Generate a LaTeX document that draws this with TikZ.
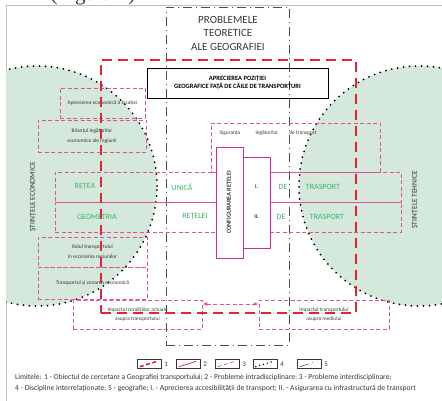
\documentclass[tikz,border=0pt]{standalone}
\usepackage{fontspec}
\setmainfont{Carlito}
\newfontfamily\figfont{Liberation Serif}
\usetikzlibrary{arrows, positioning}

\definecolor{redline}{RGB}{226,35,52}
\definecolor{pinkline}{RGB}{230,80,155}
\definecolor{magline}{RGB}{214,40,140}
\definecolor{greentext}{RGB}{60,180,110}
\definecolor{mint}{RGB}{212,232,220}
\definecolor{txt}{RGB}{55,55,55}

\tikzset{
    objbox/.style={draw=redline, line width=2.4pt, dash pattern=on 10pt off 6pt},
    intrabox/.style={draw=magline, line width=0.8pt},
    interbox/.style={draw=pinkline, line width=0.7pt, dash pattern=on 4pt off 2.5pt},
    discline/.style={draw=black, line width=2pt, line cap=round, dash pattern=on 0pt off 6pt},
    geoline/.style={draw=black!70, line width=0.6pt, dash pattern=on 9pt off 4pt on 1pt off 4pt},
    legobj/.style={draw=redline, line width=1.6pt, dash pattern=on 4pt off 2.5pt},
    legdisc/.style={draw=black, line width=1.6pt, line cap=round, dash pattern=on 0pt off 4pt},
    boxtext/.style={font=\fontsize{5.4}{9.5}\selectfont, text=txt, align=center, inner sep=0pt},
    rowtext/.style={font=\fontsize{8}{9}\selectfont, text=greentext, inner sep=0pt},
    captext/.style={anchor=base west, font=\fontsize{7.6}{9}\selectfont, text=txt, inner sep=0pt},
}

\begin{document}
\begin{tikzpicture}[>=latex, x=1pt, y=-1pt, font=\small]

\useasboundingbox (0,0) rectangle (442,401);

\node[font=\figfont\fontsize{21}{21}\selectfont, anchor=base, text=txt] (fig) at (93,0.5) {(Figura 1)};
\draw[gray!50, line width=0.4pt] (6,401) -- (6,5) -- (442,5);

% stiintele
\begin{scope}
    \clip (6,0) rectangle (442,401);
    \node[circle, fill=mint, discline, minimum size=240pt] (econ) at (37,186) {};
\end{scope}
\node[circle, fill=mint, discline, minimum size=240pt] (tehn) at (419,186) {};

\node[rotate=90, font=\fontsize{7.5}{9}\selectfont, text=txt] (econtxt) at (33,197) {ȘTIINȚELE ECONOMICE};
\node[rotate=90, font=\fontsize{7.5}{9}\selectfont, text=txt] (tehntxt) at (415,200) {ȘTIINȚELE TEHNICE};

% geografie
\node[geoline, minimum width=123pt, minimum height=338pt] (geo) at (227.5,176) {};
\node[align=center, font=\fontsize{11}{13.5}\selectfont, text=txt] (title) at (228,33) {PROBLEMELE\\TEORETICE\\ALE GEOGRAFIEI};

\node[draw, line width=0.8pt, minimum width=181pt, minimum height=30pt, align=center,
      font=\bfseries\fontsize{6.5}{8}\selectfont, inner sep=0pt] (apr) at (237.5,83)
      {APRECIEREA POZIȚIEI\\GEOGRAFICE FAȚĂ DE CĂILE DE TRANSPORTURI};

% probleme interdisciplinare
\begin{scope}[boxtext]
    \node[interbox, minimum width=85pt, minimum height=30pt] (apl) at (102.5,103) {Aprecierea economică a locației};
    \node[interbox, minimum width=108pt, minimum height=32pt] (bil) at (92,136) {Bilanțul legăturilor\\economice ale regiunii};
    \node[interbox, minimum width=109pt, minimum height=30pt] (rol) at (92.5,252) {Rolul transportului\\în economia regiunilor};
    \node[interbox, minimum width=109pt, minimum height=32pt] (trz) at (92.5,283) {Transportul și zonarea economică};
    \node[interbox, minimum width=129pt, minimum height=29pt] (ica) at (137.5,314.5) {Impactul condițiilor actuale\\asupra transportului};
    \node[interbox, minimum width=130pt, minimum height=29pt] (itm) at (324,314.5) {Impactul transportului\\asupra mediului};
    \node[interbox, minimum width=169pt, minimum height=49pt] (sig) at (295.5,147.5) {};
    \node[interbox, minimum width=346pt, minimum height=30pt] (r1) at (228,187) {};
    \node[interbox, minimum width=346pt, minimum height=30pt] (r2) at (228,217) {};

    \node (sig1) at (230,133) {Siguranța};
    \node (sig2) at (267,133) {legăturilor};
    \node (sig3) at (303,133) {de transport};
\end{scope}

\draw[<->, pinkline, line width=0.7pt, dash pattern=on 4pt off 2.5pt]
    ([yshift=10.5pt]ica.east) -- ([yshift=10.5pt]itm.west);

% probleme intradisciplinare
\node[intrabox, fill=white, minimum width=27pt, minimum height=111pt] (cfg) at (229.5,202.5) {};
\node[intrabox, fill=white, minimum width=27pt, minimum height=91pt] (rom) at (256.5,202.5) {};
\node[rotate=90, font=\bfseries\fontsize{6.2}{7}\selectfont, text=txt] (cfgtxt) at (cfg) {CONFIGURAREA REȚELEI};
\node[font=\bfseries\fontsize{5.5}{6}\selectfont, text=txt] (rom1) at (256.5,187) {I.};
\node[font=\bfseries\fontsize{5.5}{6}\selectfont, text=txt] (rom2) at (256.5,217) {II.};

\begin{scope}[rowtext]
    \node (ra) at (85,187) {REȚEA};
    \node (rb) at (182,187) {UNICĂ};
    \node (rc) at (283,187) {DE};
    \node (rd) at (323,187) {TRASPORT};
    \node (ga) at (97,217) {GEOMETRIA};
    \node (gb) at (195,217) {REȚELEI};
    \node (gc) at (281,217) {DE};
    \node (gd) at (327,217) {TRASPORT};
\end{scope}

% obiectul de cercetare
\node[objbox, minimum width=255pt, minimum height=253pt] (obj) at (228.5,186.5) {};

% legenda
\foreach \n/\x/\st in {1/149/legobj, 2/188/intrabox, 3/227/interbox, 4/265/legdisc, 5/309/geoline} {
    \node[draw=txt, line width=0.4pt, minimum width=24pt, minimum height=9pt, inner sep=0pt] (lg\n) at (\x,364) {};
    \draw[\st] ([xshift=3pt, yshift=2pt]lg\n.south west) -- ([xshift=-4pt, yshift=-2pt]lg\n.north east);
    \node[right=3pt of lg\n, font=\fontsize{7}{8}\selectfont, text=txt, inner sep=0pt] (ln\n) {\n};
}

\node[captext] (cap1) at (15,379)
    {Limitele: 1 - Obiectul de cercetare a Geografiei transportului; 2 - Probleme intradisciplinare; 3 - Probleme interdisciplinare;};
\node[captext] (cap2) at (15,390)
    {4 - Discipline interrelaționate; 5 - geografie; I. - Aprecierea accesibilității de transport; II. - Asigurarea cu infrastructură de transport};

\end{tikzpicture}
\end{document}
